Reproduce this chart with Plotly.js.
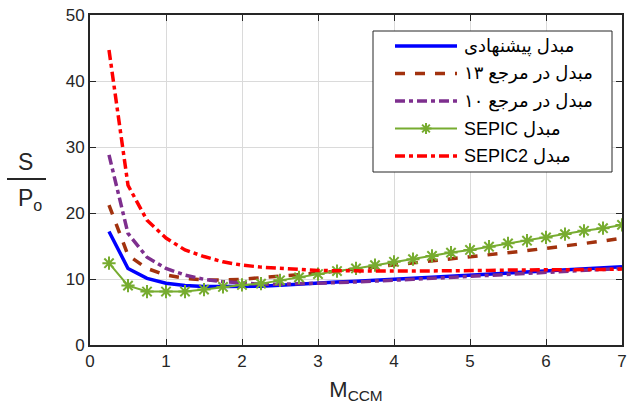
<!DOCTYPE html>
<html><head><meta charset="utf-8">
<script src="https://cdn.plot.ly/plotly-3.0.1.min.js"></script>
<style>body{margin:0;background:#fff}#chart{width:634px;height:412px}</style>
</head><body><div id="chart"></div>
<script>
const xVals = [0.25,0.5,0.75,1,1.25,1.5,1.75,2,2.25,2.5,2.75,3,3.25,3.5,3.75,4,4.25,4.5,4.75,5,5.25,5.5,5.75,6,6.25,6.5,6.75,7];
const proposed = [17.2,11.6,10.1,9.35,9.0,8.85,8.85,8.85,8.9,9.05,9.25,9.45,9.55,9.65,9.75,9.95,10.1,10.25,10.4,10.6,10.75,10.9,11.05,11.25,11.4,11.55,11.7,11.85];
const ref13 = [21.2,13.6,11.6,10.6,10.1,9.85,9.85,9.95,10.2,10.4,10.6,10.9,11.2,11.5,11.85,12.2,12.5,12.8,13.1,13.4,13.7,14.0,14.3,14.65,15.0,15.35,15.75,16.2];
const ref10 = [28.8,16.9,13.3,11.6,10.6,9.95,9.6,9.35,9.2,9.2,9.25,9.35,9.45,9.55,9.65,9.8,9.95,10.1,10.25,10.45,10.6,10.75,10.9,11.1,11.25,11.4,11.5,11.6];
const sepic = [12.4,9.0,8.1,8.1,8.1,8.4,8.8,9.1,9.3,9.8,10.25,10.75,11.2,11.6,12.1,12.6,13.0,13.5,14.0,14.4,14.9,15.4,15.8,16.3,16.8,17.3,17.7,18.2];
const sepic2 = [44.7,24.2,18.9,16.2,14.4,13.4,12.6,12.1,11.8,11.6,11.45,11.3,11.25,11.2,11.2,11.2,11.2,11.2,11.25,11.3,11.3,11.35,11.35,11.4,11.4,11.45,11.45,11.5];
const names = ["\u202Bمبدل پیشنهادی\u202C","\u202Bمبدل در مرجع ۱۳\u202C","\u202Bمبدل در مرجع ۱۰\u202C","\u202Bمبدل SEPIC\u202C","\u202Bمبدل SEPIC2\u202C"];
const xTicks = [0,1,2,3,4,5,6,7];
const yTicks = [0,10,20,30,40,50];

const FONT = "Liberation Sans, Arial, DejaVu Sans, sans-serif";
const W = 634, H = 412, ML = 90, MR = 12, MT = 15, MB = 67;
const PW = W - ML - MR, PH = H - MT - MB;
const px = v => (v - ML) / PW;          // pixel x -> paper x
const py = v => (H - MB - v) / PH;      // pixel y -> paper y

const styles = [
  {mode:'lines',line:{color:'#0000FF',width:3.5}},
  {mode:'lines',line:{color:'#A2320E',width:3.5,dash:'10px,10px'}},
  {mode:'lines',line:{color:'#7E2F8E',width:3.5,dash:'10px,4px,4px,4px'}},
  {mode:'lines+markers',line:{color:'#77AC30',width:2},
   marker:{symbol:'asterisk-open',size:11,color:'#77AC30',line:{color:'#77AC30',width:2}}},
  {mode:'lines',line:{color:'#FF0000',width:3.5,dash:'10px,4px,4px,4px'}}
];
const series = [proposed, ref13, ref10, sepic, sepic2];
const traces = series.map((ys,i)=>Object.assign({x:xVals,y:ys,name:names[i],showlegend:false}, styles[i]));

// legend drawn as layout decoration (long line samples like the reference)
const LEG = {x0:373, x1:612, y0:31, y1:172, rows:[46,73.5,101,128.5,156], lx0:395, lx1:457, tx:462};
const shapes = [
  {type:'line',xref:'paper',yref:'paper',x0:px(7),x1:px(46),y0:py(179),y1:py(179),line:{color:'#262626',width:2}},
  {type:'rect',xref:'paper',yref:'paper',layer:'above',x0:px(LEG.x0),x1:px(LEG.x1),y0:py(LEG.y0),y1:py(LEG.y1),
   fillcolor:'#ffffff',line:{color:'#262626',width:1}}
];
const annotations = [
  {xref:'paper',yref:'paper',x:px(25),y:py(162),text:'S',showarrow:false,font:{family:FONT,size:23,color:'#262626'},xanchor:'center',yanchor:'middle'},
  {xref:'paper',yref:'paper',x:px(30),y:py(199),text:'P<sub>o</sub>',showarrow:false,font:{family:FONT,size:23,color:'#262626'},xanchor:'center',yanchor:'middle'}
];
LEG.rows.forEach((ry,i)=>{
  const st = styles[i];
  shapes.push({type:'line',xref:'paper',yref:'paper',layer:'above',x0:px(LEG.lx0),x1:px(LEG.lx1),y0:py(ry),y1:py(ry),
    line:{color:st.line.color,width:st.line.width,dash:st.line.dash||'solid'}});
  if(st.marker){
    const cx = (LEG.lx0+LEG.lx1)/2, r = 5.5, d = r*0.7071;
    const segs = [[-r,0,r,0],[0,-r,0,r],[-d,-d,d,d],[-d,d,d,-d]];
    const path = segs.map(s=>`M${px(cx+s[0])},${py(ry+s[1])} L${px(cx+s[2])},${py(ry+s[3])}`).join(' ');
    shapes.push({type:'path',xref:'paper',yref:'paper',layer:'above',path:path,line:{color:st.marker.color,width:2}});
  }
  annotations.push({xref:'paper',yref:'paper',x:px(LEG.tx),y:py(ry),text:names[i],showarrow:false,
    xanchor:'left',yanchor:'middle',font:{family:FONT,size:18,color:'#000'}});
});

const axisCommon = {showline:true,mirror:'ticks',linecolor:'#262626',linewidth:2,ticks:'inside',ticklen:6,
  tickcolor:'#262626',gridcolor:'#dadada',gridwidth:1,zeroline:false,tickfont:{family:FONT,size:17,color:'#262626'}};
const layout = {
  width:W,height:H,margin:{l:ML,r:MR,t:MT,b:MB},
  paper_bgcolor:'#fff',plot_bgcolor:'#fff',showlegend:false,
  font:{family:FONT,color:'#000'},
  xaxis:Object.assign({},axisCommon,{range:[0,7],tickvals:xTicks,
    title:{text:'M<sub>CCM</sub>',font:{family:FONT,size:22,color:'#262626'},standoff:11}}),
  yaxis:Object.assign({},axisCommon,{range:[0,50],tickvals:yTicks}),
  annotations:annotations,
  shapes:shapes
};
Plotly.newPlot('chart',traces,layout,{displayModeBar:false,staticPlot:true});
</script></body></html>
